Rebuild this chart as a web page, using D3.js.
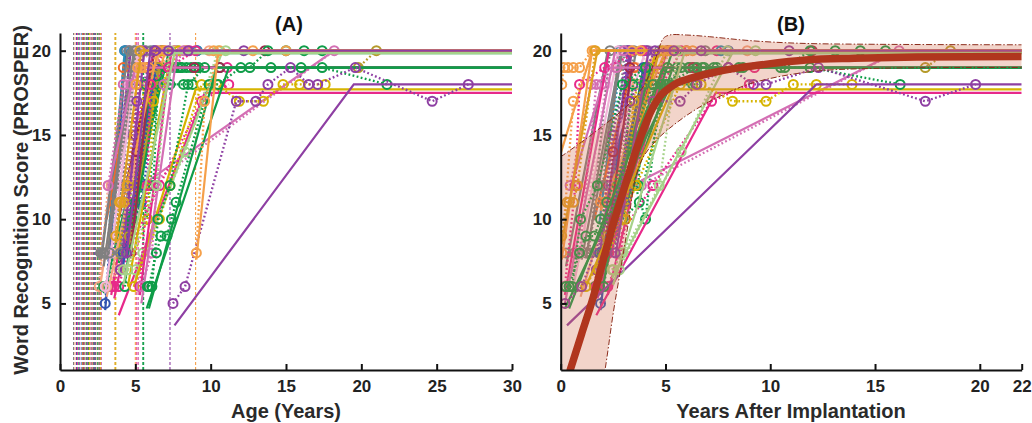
<!DOCTYPE html>
<html>
<head>
<meta charset="utf-8">
<script src="https://cdn.jsdelivr.net/npm/d3@7"></script>
<style>
  body { margin: 0; background: #fff; }
  svg { font-family: "Liberation Sans", Arial, sans-serif; }
  .axis path, .axis line { stroke: #111; stroke-width: 2; }
  .axis text { font-size: 17px; font-weight: bold; fill: #222; }
  .label { font-size: 20px; font-weight: bold; fill: #2a2a2a; }
  .title { font-size: 20px; font-weight: bold; fill: #111; }
</style>
</head>
<body>
<svg id="chart" width="1032" height="423"></svg>
<script>
// tick values
const scoreTicks = [5, 10, 15, 20];
const ageTicks = [0, 5, 10, 15, 20, 25, 30];
const yearTicks = [0, 5, 10, 15, 20, 22];

// one entry per child
const subjectColors = [
  '#808080', '#f4a582', '#3253b0', '#e7298a', '#0f9d48', '#8e3fa3', '#f1b6da', '#2a8fb6',
  '#ec6a2c', '#808080', '#a0284e', '#0f9d48', '#e7298a', '#0f9d48',
  '#d6b400', '#f5a04a', '#d46fb4', '#808080', '#f4a582', '#e7298a', '#0f9d48', '#8e3fa3',
  '#3253b0', '#b59a2a', '#f1b6da', '#0f9d48', '#a6d28a', '#a0284e', '#808080', '#d6b400',
  '#d46fb4', '#d6b400', '#f5a04a', '#e7298a', '#d46fb4', '#0f9d48', '#0f9d48', '#8e3fa3',
  '#f5a04a', '#e0a020', '#a6d28a', '#8e3fa3'
];
const implantAges = [
  0.9, 1.0, 1.1, 1.15, 1.25, 1.3, 1.35, 1.45, 1.5, 1.55, 1.6, 1.75, 1.85, 1.9,
  1.95, 2.0, 2.05, 2.1, 2.15, 2.2, 2.25, 2.3, 2.35, 2.4, 2.45, 2.5, 2.55, 2.6, 2.65, 2.7,
  2.75, 3.7, 5.0, 5.1, 5.2, 5.5, 5.55, 7.3, 9.0, 3.65, 1.7, 1.8
];
const visitAges = [
  [2.7, 2.9, 3.1, 4.4, 5.6, 7.8],
  [2.6, 3.2, 3.4, 4.6, 6.3, 9.9],
  [3.0, 4.3, 6.2, 9.1],
  [3.4, 4.0, 5.1, 6.9, 8.6],
  [2.9, 3.1, 4.2, 5.0, 6.3, 7.0, 7.6, 8.1, 8.7],
  [3.5, 3.7, 4.2, 4.6, 5.3, 12.2],
  [3.2, 3.5, 4.5, 5.6],
  [3.4, 4.3, 9.1],
  [3.6, 4.2, 5.0, 5.8, 6.6],
  [2.8, 3.0, 3.7, 4.6, 5.7],
  [3.9, 4.2, 5.0, 6.7, 7.6, 13.6],
  [4.0, 5.3, 5.8, 6.5, 6.9, 8.2],
  [3.6, 4.9, 6.2, 11.1],
  [3.9, 4.8, 6.4, 7.0, 8.0, 9.2, 10.6, 12.6, 13.8, 15.0, 16.2, 17.4],
  [3.8, 4.8, 5.6, 6.8],
  [3.9, 4.6, 5.2, 7.0, 8.3],
  [4.4, 5.9, 18.2],
  [3.1, 3.3, 4.1, 4.9, 6.0],
  [3.1, 3.9, 5.8, 7.6],
  [3.9, 4.5, 6.6, 9.4, 11.2],
  [4.3, 5.0, 5.7, 6.4, 7.8, 8.4, 9.0],
  [4.0, 4.8, 5.5, 6.4],
  [4.2, 5.4, 5.6, 6.3],
  [4.6, 5.1, 6.5, 19.8, 21.0],
  [3.0, 3.4, 4.6, 5.2],
  [4.8, 6.2, 6.5, 7.3, 8.8],
  [5.0, 5.5, 8.3, 10.5],
  [4.7, 5.1, 5.9, 8.9, 10.6],
  [2.9, 3.3, 4.0, 5.0],
  [4.5, 5.8, 6.2, 7.9],
  [3.2, 4.2, 4.7, 5.4],
  [4.9, 6.6, 7.3, 9.4, 10.4, 11.9, 13.5, 14.8, 15.9, 17.6],
  [5.05, 5.15, 5.35, 5.6, 5.9, 6.5, 8.4, 10.2],
  [5.3, 5.8, 6.0, 7.2, 9.0],
  [5.4, 6.1, 6.9, 8.2],
  [5.9, 6.4, 6.7, 7.1, 7.4, 7.7, 9.9, 10.5, 12.0, 14.0, 16.0, 17.4, 21.7],
  [5.8, 6.1, 6.5, 7.3, 8.5, 9.6],
  [7.5, 8.3, 11.7, 13.0, 13.8, 15.3, 16.5, 17.1, 19.6, 24.7, 27.1],
  [9.05, 9.6, 10.6, 12.8, 15.0],
  [3.7, 3.95, 4.05, 4.25, 4.45, 5.3],
  [4.2, 4.5, 6.4, 7.3, 11.0],
  [4.4, 5.1, 6.3, 7.2, 8.5]
];
const visitScores = [
  [8, 8, 8, 20, 20, 20],
  [6, 12, 12, 19, 20, 20],
  [5, 20, 20, 20],
  [6, 8, 16, 20, 20],
  [6, 6, 10, 11, 18, 19, 19, 19, 19],
  [8, 12, 12, 20, 20, 20],
  [12, 11, 18, 20],
  [8, 20, 20],
  [11, 19, 19, 19, 19],
  [8, 8, 8, 20, 20],
  [12, 12, 15, 20, 20, 20],
  [8, 12, 10, 18, 18, 18],
  [6, 11, 19, 19],
  [8, 12, 18, 19, 19, 19, 19, 19, 20, 20, 20, 20],
  [8, 12, 18, 20],
  [11, 12, 12, 20, 20],
  [12, 12, 20],
  [8, 8, 12, 20, 20],
  [6, 7, 18, 20],
  [6, 8, 12, 17, 18],
  [6, 11, 18, 19, 19, 19, 19],
  [7, 15, 20, 20],
  [8, 11, 12, 19],
  [9, 12, 19, 19, 20],
  [6, 8, 18, 20],
  [10, 12, 18, 18, 18],
  [7, 8, 14, 20],
  [8, 14, 19, 19, 19],
  [8, 8, 8, 20],
  [7, 10, 17, 20],
  [12, 18, 18, 19],
  [6, 10, 12, 18, 18, 17, 17, 18, 18, 18],
  [18, 19, 19, 19, 19, 20, 20, 20],
  [6, 12, 18, 19, 20],
  [6, 8, 18, 20],
  [6, 8, 9, 9, 10, 11, 18, 18, 19, 19, 19, 19, 18],
  [6, 6, 10, 12, 18, 19],
  [5, 6, 17, 17, 18, 19, 18, 18, 19, 17, 18],
  [8, 17, 20, 20, 20],
  [9, 11, 11, 11, 12, 20],
  [7, 7, 12, 20, 20],
  [8, 17, 20, 20, 20]
];
// fitted piecewise-linear growth: start point, knee age, plateau
const fitStartAge = [
  2.7, 2.6, 3.0, 3.4, 2.9, 3.4, 3.2, 3.3, 3.1, 2.8, 3.9, 4.0, 3.6, 3.9,
  3.8, 3.9, 5.9, 3.1, 3.1, 3.9, 4.3, 4.0, 4.2, 4.6, 3.0, 4.8, 5.0, 4.7, 2.9, 4.5,
  3.2, 4.9, 5.0, 5.3, 5.4, 5.9, 5.75, 7.6, 9.05, 3.7, 4.2, 4.4
];
const fitStartScore = [
  7.6, 5.7, 4.6, 5.5, 5.6, 9.6, 11.5, 9.8, 10.0, 8.0, 10.0, 7.5, 5.3, 7.4,
  7.8, 10.5, 12.3, 7.6, 5.4, 4.3, 6.2, 6.6, 7.3, 8.5, 5.6, 9.4, 6.5, 7.8, 7.2, 6.0,
  11.8, 6.0, 13.9, 5.5, 5.0, 4.7, 4.7, 3.7, 7.6, 8.6, 6.1, 7.7
];
const fitKneeAge = [
  4.5, 5.2, 4.4, 6.2, 6.6, 4.7, 5.4, 4.3, 4.9, 4.5, 6.3, 6.6, 6.8, 7.2,
  6.5, 7.0, 18.2, 5.0, 6.6, 9.6, 6.2, 5.6, 6.4, 6.6, 5.2, 6.8, 10.8, 6.0, 4.9, 7.4,
  5.0, 9.0, 6.5, 7.4, 7.8, 10.4, 11.2, 19.5, 10.5, 5.4, 7.6, 6.0
];
const fitPlateau = [
  20, 20, 20, 20, 19, 20, 20, 20, 19, 20, 20, 19, 19, 19.85,
  20, 20, 20, 20, 20, 17.5, 19, 20, 19, 19, 20, 19, 20, 19, 20, 20,
  19, 17.7, 20, 20, 20, 19, 19, 18, 20, 20, 19.85, 20
];

// group mean trajectory and its confidence band (panel B)
const meanYears  = [0.44, 1.0, 1.56, 2.1, 2.67, 3.15, 3.55, 3.94, 4.35, 4.74, 5.2, 5.53, 6.3, 7.12, 8.3, 9.5, 11.7, 14, 17, 22];
const meanScores = [1.0, 3.2, 5.4, 7.9, 10.4, 12.3, 13.9, 15.3, 16.5, 17.3, 17.8, 18.07, 18.4, 18.66, 18.95, 19.15, 19.45, 19.55, 19.62, 19.65];
const upperYears  = [0, 1.56, 3.15, 3.8, 4.26, 4.6, 4.9, 5.2, 6.0, 7.1, 9.0, 11.4, 15, 22];
const upperScores = [13.7, 15.1, 16.7, 17.6, 18.66, 19.8, 20.73, 20.93, 20.93, 20.83, 20.6, 20.44, 20.38, 20.35];
const lowerYears  = [0, 2.11, 2.51, 2.91, 3.23, 3.54, 3.9, 4.5, 5.2, 6.3, 7.6, 9.2, 11.9, 15, 22];
const lowerScores = [-15, 1.0, 4.45, 7.4, 9.8, 12.3, 13.6, 14.6, 15.4, 16.4, 17.3, 18.1, 18.75, 18.95, 19.0];

const svg = d3.select('#chart');
const plotTop = 33, plotBottom = 370;

const y = d3.scaleLinear().domain([1.05, 21.05]).range([plotBottom, plotTop]);
const xA = d3.scaleLinear().domain([0, 30]).range([60, 512]);
const xB = d3.scaleLinear().domain([0, 22]).range([560.7, 1021.7]);

// clip regions
const defs = svg.append('defs');
[['clipA', xA], ['clipB', xB]].forEach(([id, x]) => {
  defs.append('clipPath').attr('id', id)
    .append('rect')
    .attr('x', x.range()[0]).attr('y', plotTop)
    .attr('width', x.range()[1] - x.range()[0]).attr('height', plotBottom - plotTop);
});

function drawSubjects(g, x, xEnd, shiftByImplant) {
  const line = d3.line().x(d => x(d[0])).y(d => y(d[1]));

  if (!shiftByImplant) {
    // implantation ages as thin dashed verticals
    g.selectAll('.implant')
      .data(implantAges)
      .enter()
      .append('line')
      .attr('class', 'implant')
      .attr('x1', d => x(d)).attr('x2', d => x(d))
      .attr('y1', y(1.05)).attr('y2', y(21.05))
      .attr('stroke', (d, i) => subjectColors[i])
      .attr('stroke-width', 1.1)
      .attr('stroke-dasharray', '3,2');
  }

  subjectColors.forEach((c, i) => {
    const shift = shiftByImplant ? implantAges[i] : 0;

    const fit = [
      [fitStartAge[i] - shift, fitStartScore[i]],
      [fitKneeAge[i] - shift, fitPlateau[i]],
      [xEnd, fitPlateau[i]]
    ];
    g.append('path')
      .attr('d', line(fit))
      .attr('fill', 'none')
      .attr('stroke', c)
      .attr('stroke-width', 2.2);

    const obs = visitAges[i].map((a, j) => [a - shift, visitScores[i][j]]);
    g.append('path')
      .attr('d', line(obs))
      .attr('fill', 'none')
      .attr('stroke', c)
      .attr('stroke-width', 2.3)
      .attr('stroke-dasharray', '1.8,2.4');

    g.selectAll(null)
      .data(obs)
      .enter()
      .append('circle')
      .attr('cx', d => x(d[0]))
      .attr('cy', d => y(d[1]))
      .attr('r', 4.5)
      .attr('fill', 'none')
      .attr('stroke', c)
      .attr('stroke-width', 2);
  });
}

// ---- panel A
const gA = svg.append('g').attr('clip-path', 'url(#clipA)');
drawSubjects(gA, xA, 30, false);

// ---- panel B
const gB = svg.append('g').attr('clip-path', 'url(#clipB)');
drawSubjects(gB, xB, 22, true);

const upperPts = upperYears.map((t, i) => [t, upperScores[i]]);
const lowerPts = lowerYears.map((t, i) => [t, lowerScores[i]]);
const edge = d3.line().x(d => xB(d[0])).y(d => y(d[1])).curve(d3.curveCatmullRom.alpha(0.5));

const bandPath = edge(upperPts) + 'L' + edge(lowerPts.slice().reverse()).slice(1) + 'Z';
gB.append('path')
  .attr('d', bandPath)
  .attr('fill', '#d4704f')
  .attr('fill-opacity', 0.3)
  .attr('stroke', 'none');

[upperPts, lowerPts].forEach(pts => {
  gB.append('path')
    .attr('d', edge(pts))
    .attr('fill', 'none')
    .attr('stroke', '#8c2d1c')
    .attr('stroke-width', 1)
    .attr('stroke-dasharray', '6,2,1.5,2');
});

gB.append('path')
  .attr('d', d3.line().x(d => xB(d[0])).y(d => y(d[1])).curve(d3.curveMonotoneX)(meanYears.map((t, i) => [t, meanScores[i]])))
  .attr('fill', 'none')
  .attr('stroke', '#b0361e')
  .attr('stroke-width', 7.5);

// ---- axes
function addAxes(x, ticks) {
  svg.append('g')
    .attr('class', 'axis')
    .attr('transform', `translate(0,${plotBottom})`)
    .call(d3.axisBottom(x).tickValues(ticks).tickSize(-6).tickSizeOuter(0).tickPadding(10).tickFormat(d3.format('d')));
  svg.append('g')
    .attr('class', 'axis')
    .attr('transform', `translate(${x.range()[0]},0)`)
    .call(d3.axisLeft(y).tickValues(scoreTicks).tickSize(-6).tickSizeOuter(0).tickPadding(9));
}
addAxes(xA, ageTicks);
addAxes(xB, yearTicks);

// ---- text
svg.append('text').attr('class', 'title').attr('x', 289).attr('y', 31).attr('text-anchor', 'middle').text('(A)');
svg.append('text').attr('class', 'title').attr('x', 791).attr('y', 31).attr('text-anchor', 'middle').text('(B)');
svg.append('text').attr('class', 'label').attr('x', 286).attr('y', 418).attr('text-anchor', 'middle').text('Age (Years)');
svg.append('text').attr('class', 'label').attr('x', 791).attr('y', 418).attr('text-anchor', 'middle').text('Years After Implantation');
svg.append('text').attr('class', 'label')
  .attr('transform', 'translate(28,200) rotate(-90)')
  .attr('text-anchor', 'middle')
  .text('Word Recognition Score (PROSPER)');
</script>
</body>
</html>
